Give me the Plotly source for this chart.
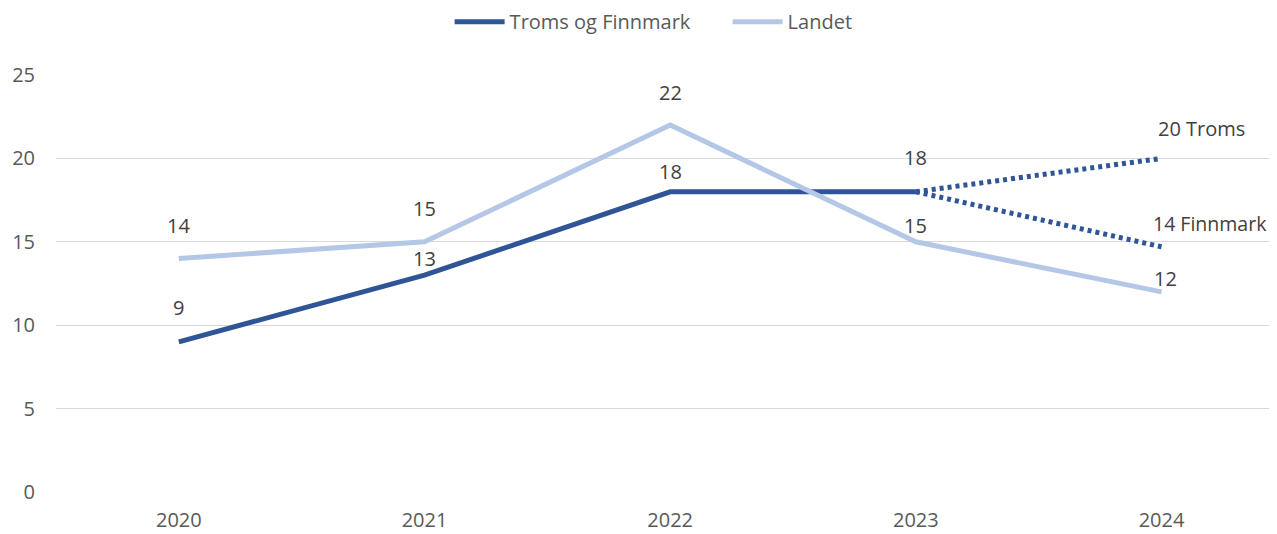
import plotly.graph_objects as go

years = ["2020", "2021", "2022", "2023", "2024"]
troms_finnmark = [9, 13, 18, 18]
landet = [14, 15, 22, 15, 12]
proj_years = ["2023", "2024"]
proj_troms = [18, 20]
proj_finnmark = [18, 14.7]
proj_troms_label = "20 Troms"
proj_finnmark_label = "14 Finnmark"

# label placement offsets (px) - styling only
tf_shift = [34, 17, 20, 34]
landet_shift = [33, 33, 33, 16, 13]
landet_xshift = [0, 0, 0, 0, 4]

dark = "#2F5597"
light = "#B4C7E7"
txt = "#404040"
tick_col = "#595959"
font_family = "Open Sans, Noto Sans, sans-serif"
fs = 20

fig = go.Figure()
fig.add_trace(go.Scatter(x=years[:4], y=troms_finnmark, mode="lines", name="Troms og Finnmark",
                         line=dict(color=dark, width=5), cliponaxis=False))
fig.add_trace(go.Scatter(x=years, y=landet, mode="lines", name="Landet",
                         line=dict(color=light, width=5), cliponaxis=False))
fig.add_trace(go.Scatter(x=proj_years, y=proj_troms, mode="lines", showlegend=False,
                         line=dict(color=dark, width=5, dash="4px,4px")))
fig.add_trace(go.Scatter(x=proj_years, y=proj_finnmark, mode="lines", showlegend=False,
                         line=dict(color=dark, width=5, dash="4px,4px")))

ann = []
for i, v in enumerate(troms_finnmark):
    ann.append(dict(x=i, y=v, text=str(v), showarrow=False, yshift=tf_shift[i],
                    font=dict(size=fs, color=txt, family=font_family)))
for i, v in enumerate(landet):
    ann.append(dict(x=i, y=v, text=str(v), showarrow=False, yshift=landet_shift[i],
                    xshift=landet_xshift[i],
                    font=dict(size=fs, color=txt, family=font_family)))
last = years.index(proj_years[1])
ann.append(dict(x=last, y=proj_troms[1], text=proj_troms_label, showarrow=False,
                yshift=30, xshift=40, font=dict(size=fs, color=txt, family=font_family)))
ann.append(dict(x=last, y=proj_finnmark[1], text=proj_finnmark_label, showarrow=False,
                xanchor="left", yshift=23, xshift=-11,
                font=dict(size=19.5, color=txt, family=font_family)))

fig.update_layout(
    width=1269, height=526,
    margin=dict(l=48, r=0, t=67, b=42, autoexpand=False),
    paper_bgcolor="white", plot_bgcolor="white",
    font=dict(family=font_family, size=fs, color=tick_col),
    showlegend=True,
    legend=dict(orientation="h", x=0.348, xanchor="left", xref="container",
                y=0.974, yanchor="middle", yref="container", itemwidth=50,
                entrywidth=213,
                font=dict(size=fs, color=tick_col)),
    annotations=ann,
    xaxis=dict(type="category", range=[-0.5, 4.47], showgrid=False, showline=False,
               ticks="", ticklabelstandoff=14, tickfont=dict(size=fs, color=tick_col)),
    yaxis=dict(range=[0, 25], dtick=5, showgrid=True, gridcolor="#D9D9D9", gridwidth=1.3,
               zeroline=False, showline=False, ticks="", ticklabelstandoff=20,
               tickfont=dict(size=fs, color=tick_col)),
)

fig.write_html("out.html")
